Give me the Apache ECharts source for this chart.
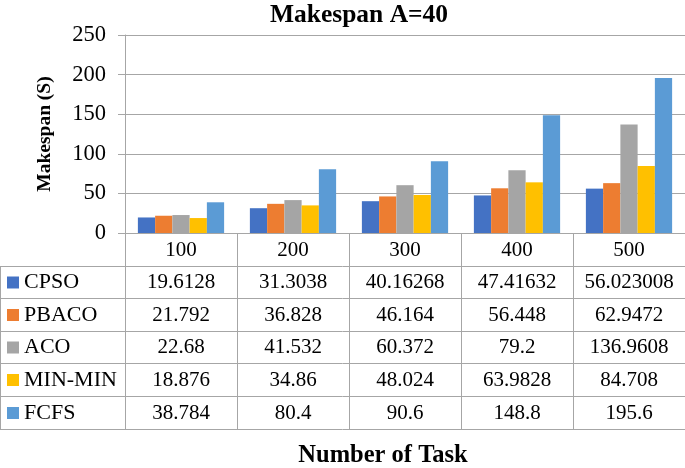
<!DOCTYPE html>
<html><head><meta charset="utf-8">
<script src="https://cdn.jsdelivr.net/npm/echarts@6/dist/echarts.min.js"></script>
<style>html,body{margin:0;padding:0;background:#fff}#c{width:685px;height:468px}</style>
</head><body><div id="c"></div>
<script>
const categories = ['100', '200', '300', '400', '500'];
const seriesNames = ['CPSO', 'PBACO', 'ACO', 'MIN-MIN', 'FCFS'];
const cpso = [19.6128, 31.3038, 40.16268, 47.41632, 56.023008];
const pbaco = [21.792, 36.828, 46.164, 56.448, 62.9472];
const aco = [22.68, 41.532, 60.372, 79.2, 136.9608];
const minmin = [18.876, 34.86, 48.024, 63.9828, 84.708];
const fcfs = [38.784, 80.4, 90.6, 148.8, 195.6];
const yTickValues = [0, 50, 100, 150, 200, 250];
const colors = ['#4472C4', '#ED7D31', '#A5A5A5', '#FFC000', '#5B9BD5'];
const seriesData = [cpso, pbaco, aco, minmin, fcfs];

const FONT = "'Liberation Serif', 'Times New Roman', 'DejaVu Serif', serif";
const GRAY = '#A6A6A6';
const AXIS_Y = 233;
const rowLines = [266.5, 298.5, 331.5, 363.5, 396.5, 429.5];
const rowCenters = rowLines.slice(0, 5).map((y, i) => (y + rowLines[i + 1]) / 2);

const chart = echarts.init(document.getElementById('c'), null, {renderer: 'canvas'});

const xAxes = [{
  type: 'category', data: categories, gridIndex: 0, position: 'bottom',
  axisLine: {show: true, lineStyle: {color: GRAY, width: 1}},
  axisTick: {show: true, length: 196, interval: 0, lineStyle: {color: GRAY, width: 1}},
  axisLabel: {margin: 17, verticalAlign: 'middle', fontFamily: FONT, fontSize: 21, color: '#000', interval: 0},
  splitLine: {show: false}
}];
seriesData.forEach((vals, r) => {
  xAxes.push({
    type: 'category', data: vals.map(v => String(v)), gridIndex: 0, position: 'bottom',
    offset: rowCenters[r] - AXIS_Y,
    axisLine: {show: false}, axisTick: {show: false}, splitLine: {show: false},
    axisLabel: {margin: 0, verticalAlign: 'middle', fontFamily: FONT, fontSize: 21, color: '#000', interval: 0}
  });
});

const graphic = [];
rowLines.forEach(y => {
  graphic.push({type: 'line', shape: {x1: 0, y1: y, x2: 685, y2: y}, style: {stroke: GRAY, lineWidth: 1}, silent: true});
});
graphic.push({type: 'line', shape: {x1: 0.5, y1: rowLines[0], x2: 0.5, y2: rowLines[5]}, style: {stroke: GRAY, lineWidth: 1}, silent: true});
seriesNames.forEach((n, i) => {
  graphic.push({type: 'rect', shape: {x: 7, y: rowCenters[i] - 6, width: 12, height: 12}, style: {fill: colors[i]}, silent: true});
  graphic.push({type: 'text', x: 24, y: rowCenters[i], style: {text: n, fontFamily: FONT, fontSize: 22, fill: '#000', verticalAlign: 'middle', align: 'left'}, silent: true});
});

chart.setOption({
  animation: false,
  backgroundColor: '#fff',
  title: [
    {text: 'Makespan A=40', left: 354, textAlign: 'center', top: -3,
     textStyle: {fontFamily: FONT, fontSize: 25.5, fontWeight: 'bold', color: '#000'}},
    {text: 'Number of Task', left: 378, textAlign: 'center', top: 438,
     textStyle: {fontFamily: FONT, fontSize: 24.5, fontWeight: 'bold', color: '#000'}}
  ],
  grid: {left: 125, right: 0, top: 35, bottom: 468 - AXIS_Y, containLabel: false},
  xAxis: xAxes,
  yAxis: {
    type: 'value', min: yTickValues[0], max: yTickValues[yTickValues.length - 1], interval: 50,
    name: 'Makespan (S)', nameLocation: 'middle', nameGap: 70,
    nameTextStyle: {fontFamily: FONT, fontSize: 19.5, fontWeight: 'bold', color: '#000'},
    axisLine: {show: true, lineStyle: {color: GRAY, width: 1}},
    axisTick: {show: true, length: 7, lineStyle: {color: GRAY, width: 1}},
    axisLabel: {margin: 19, fontFamily: FONT, fontSize: 22.5, color: '#000'},
    splitLine: {show: true, lineStyle: {color: GRAY, width: 1}}
  },
  series: seriesNames.map((n, i) => ({
    name: n, type: 'bar', data: seriesData[i], xAxisIndex: 0,
    barCategoryGap: '23%', barGap: '0%',
    itemStyle: {color: colors[i]}
  })),
  graphic: graphic
});
</script></body></html>
